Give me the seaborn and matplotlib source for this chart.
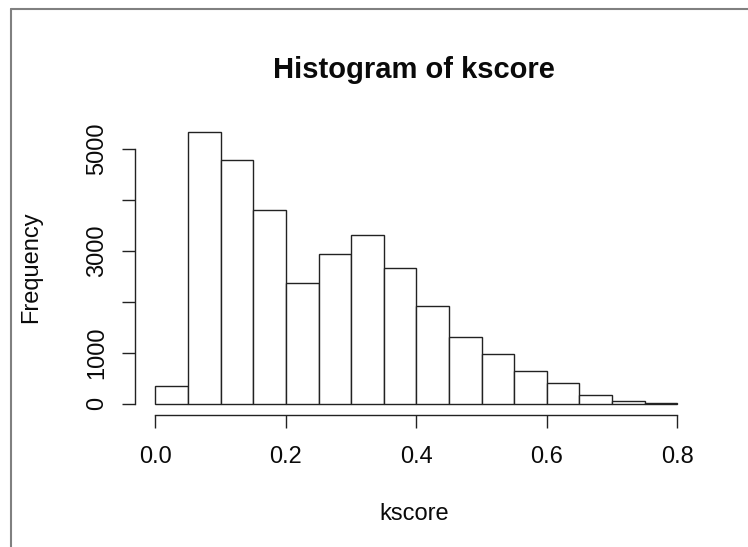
import matplotlib
matplotlib.use("Agg")
import matplotlib.pyplot as plt
from matplotlib.lines import Line2D
import numpy as np
import pandas as pd
import seaborn as sns

# Histogram bins (kscore) and their frequencies
bin_edges = [0.00, 0.05, 0.10, 0.15, 0.20, 0.25, 0.30, 0.35, 0.40,
             0.45, 0.50, 0.55, 0.60, 0.65, 0.70, 0.75, 0.80]
counts = [342, 5334, 4778, 3808, 2369, 2939, 3310, 2662,
          1910, 1302, 968, 634, 412, 163, 45, 15]

x_ticks = [0.0, 0.2, 0.4, 0.6, 0.8]
x_tick_labels = ["0.0", "0.2", "0.4", "0.6", "0.8"]
y_ticks = [0, 1000, 2000, 3000, 4000, 5000]
y_tick_labels = ["0", "1000", "", "3000", "", "5000"]

sns.set_theme(style="white")
plt.rcParams["font.family"] = ["Liberation Sans", "DejaVu Sans"]

W, H = 748, 547
fig = plt.figure(figsize=(W / 100, H / 100), dpi=100)
fig.patch.set_facecolor("white")


def px_box(left, top, right, bottom):
    return [left / W, 1 - bottom / H, (right - left) / W, (bottom - top) / H]


ax = fig.add_axes(px_box(134.6, 121.1, 698.2, 414.6))

edges = np.asarray(bin_edges)
df = pd.DataFrame({"kscore": (edges[:-1] + edges[1:]) / 2, "count": counts})
sns.histplot(data=df, x="kscore", weights="count", bins=bin_edges,
             color="white", edgecolor="#222222", linewidth=1.0, alpha=1,
             ax=ax)

ax.set_xlim(-0.032, 0.832)
ax.set_ylim(-213.4, 5547.4)
ax.set_facecolor("white")

# base-graphics style axes: detached, ranged spines
for side in ("top", "right"):
    ax.spines[side].set_visible(False)
for side in ("left", "bottom"):
    ax.spines[side].set_color("#222222")
    ax.spines[side].set_linewidth(1.0)
ax.spines["left"].set_bounds(0, 5000)
ax.spines["bottom"].set_bounds(0, 0.8)

ax.set_xticks(x_ticks)
ax.set_xticklabels(x_tick_labels)
ax.set_yticks(y_ticks)
ax.set_yticklabels(y_tick_labels)
ax.tick_params(axis="both", which="major", bottom=True, left=True,
               direction="out", length=9.6, width=1.0, color="#222222",
               labelsize=17, labelcolor="#0a0a0a")
ax.tick_params(axis="x", pad=13.0)
ax.tick_params(axis="y", pad=9.5)
for lab in ax.get_yticklabels():
    lab.set_rotation(90)
    lab.set_va("center")

ax.set_xlabel("kscore", fontsize=17, color="#0a0a0a")
ax.set_ylabel("Frequency", fontsize=17, color="#0a0a0a")
ax.xaxis.set_label_coords(0.4957, -0.301)
ax.yaxis.set_label_coords(-0.1640, 0.503)

ax.set_title("Histogram of kscore", fontsize=21, fontweight="bold",
             color="#0a0a0a", y=1.148, pad=0, x=0.4957)

# outer frame edge
frame_col = "#808080"
fig.add_artist(Line2D([10.8 / W, 1.0], [1 - 9 / H, 1 - 9 / H],
                      transform=fig.transFigure, color=frame_col, lw=1.5))
fig.add_artist(Line2D([10.8 / W, 10.8 / W], [0.0, 1 - 9 / H],
                      transform=fig.transFigure, color=frame_col, lw=1.5))

fig.savefig("out.png", dpi=100, facecolor="white")
